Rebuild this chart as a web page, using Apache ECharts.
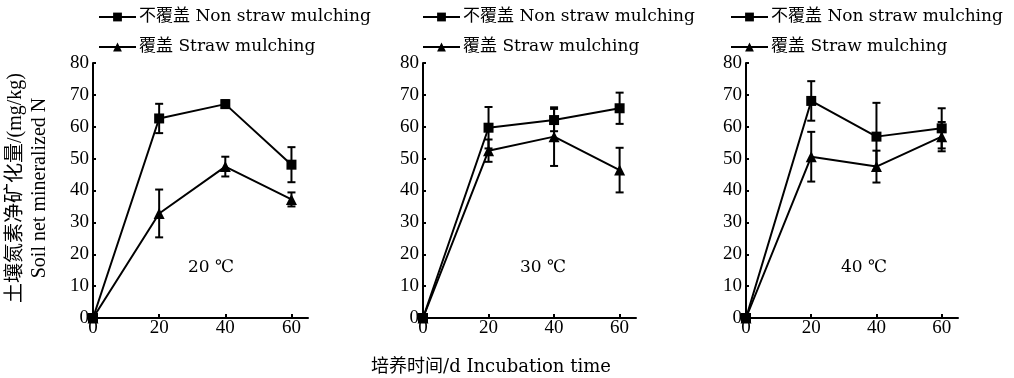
<!DOCTYPE html>
<html>
<head>
<meta charset="utf-8">
<script src="https://cdn.jsdelivr.net/npm/echarts@6/dist/echarts.min.js"></script>
<style>
html,body{margin:0;padding:0;background:#fff;}
#chart{width:1014px;height:378px;}
</style>
</head>
<body>
<div id="chart"></div>
<script>
// ---- data ----
const days = [0, 20, 40, 60];
const xTickValues = [0, 20, 40, 60];
const seriesNames = ['不覆盖 Non straw mulching', '覆盖 Straw mulching'];
const panelLabels = ['20 ℃', '30 ℃', '40 ℃'];

const non20 = [0, 62.6, 67.1, 48.1];
const non20Sd = [0, 4.6, 1.2, 5.5];
const straw20 = [0, 32.8, 47.5, 37.2];
const straw20Sd = [0, 7.5, 3.1, 2.2];

const non30 = [0, 59.7, 62.1, 65.8];
const non30Sd = [0, 6.5, 3.5, 4.9];
const straw30 = [0, 52.5, 56.9, 46.4];
const straw30Sd = [0, 3.5, 9.2, 7.0];

const non40 = [0, 68.1, 56.9, 59.5];
const non40Sd = [0, 6.2, 10.6, 6.3];
const straw40 = [0, 50.6, 47.5, 56.9];
const straw40Sd = [0, 7.8, 5.0, 4.6];

const yTitleCn = '土壤氮素净矿化量/(mg/kg)';
const yTitleEn = 'Soil net mineralized N';
const xTitle = '培养时间/d Incubation time';

// ---- layout ----
const SERIF = "'Liberation Serif','Noto Sans CJK SC',serif";
const SERIF2 = "'DejaVu Serif','Noto Sans CJK SC',serif";
const panels = [
  {left: 93, width: 215, non: non20, nonSd: non20Sd, straw: straw20, strawSd: straw20Sd, legendLeft: 98, labelX: 211},
  {left: 423, width: 213, non: non30, nonSd: non30Sd, straw: straw30, strawSd: straw30Sd, legendLeft: 422, labelX: 543},
  {left: 746, width: 212, non: non40, nonSd: non40Sd, straw: straw40, strawSd: straw40Sd, legendLeft: 730, labelX: 864}
];
const gridTop = 63, gridHeight = 255;
const LW = 2;

function errSeries(idx, vals, sds) {
  return {
    type: 'custom',
    xAxisIndex: idx, yAxisIndex: idx,
    silent: true,
    z: 1,
    data: days.map((d, i) => [d, vals[i], sds[i]]),
    renderItem: function (params, api) {
      const x = api.value(0), v = api.value(1), e = api.value(2);
      if (!e) return null;
      const top = api.coord([x, v + e]);
      const bot = api.coord([x, v - e]);
      const hw = 4;
      const st = {stroke: '#000', lineWidth: LW};
      return {
        type: 'group',
        children: [
          {type: 'line', shape: {x1: top[0], y1: top[1], x2: bot[0], y2: bot[1]}, style: st},
          {type: 'line', shape: {x1: top[0] - hw, y1: top[1], x2: top[0] + hw, y2: top[1]}, style: st},
          {type: 'line', shape: {x1: bot[0] - hw, y1: bot[1], x2: bot[0] + hw, y2: bot[1]}, style: st}
        ]
      };
    }
  };
}

const grid = [], xAxis = [], yAxis = [], series = [], legend = [], graphic = [];
panels.forEach((p, i) => {
  grid.push({left: p.left, top: gridTop, width: p.width, height: gridHeight, containLabel: false});
  xAxis.push({
    type: 'value', gridIndex: i, min: 0, max: 65, interval: 20,
    splitLine: {show: false},
    axisLine: {onZero: false, lineStyle: {color: '#000', width: LW}},
    axisTick: {inside: true, length: 4, lineStyle: {color: '#000', width: LW}, customValues: [20, 40, 60]},
    axisLabel: {color: '#000', fontFamily: SERIF, fontSize: 19, margin: 1, customValues: xTickValues}
  });
  yAxis.push({
    type: 'value', gridIndex: i, min: 0, max: 80, interval: 10,
    splitLine: {show: false},
    axisLine: {lineStyle: {color: '#000', width: LW}},
    axisTick: {inside: true, length: 3, lineStyle: {color: '#000', width: LW}},
    axisLabel: {color: '#000', fontFamily: SERIF, fontSize: 19, margin: 4}
  });
  series.push(errSeries(i, p.straw, p.strawSd));
  series.push(errSeries(i, p.non, p.nonSd));
  series.push({
    name: seriesNames[1], type: 'line', xAxisIndex: i, yAxisIndex: i,
    data: days.map((d, k) => [d, p.straw[k]]),
    symbol: 'triangle', symbolSize: 11, z: 2,
    lineStyle: {color: '#000', width: LW}, itemStyle: {color: '#000'},
    emphasis: {disabled: true}
  });
  series.push({
    name: seriesNames[0], type: 'line', xAxisIndex: i, yAxisIndex: i,
    data: days.map((d, k) => [d, p.non[k]]),
    symbol: 'rect', symbolSize: 10, z: 3,
    lineStyle: {color: '#000', width: LW}, itemStyle: {color: '#000'},
    emphasis: {disabled: true}
  });
  legend.push({
    left: p.legendLeft, top: 7, orient: 'vertical', padding: 0,
    itemWidth: 37, itemHeight: 11, itemGap: 10,
    selectedMode: false,
    data: seriesNames,
    textStyle: {color: '#000', fontFamily: SERIF2, fontSize: 17, lineHeight: 20, padding: [0, 0, 0, -2]}
  });
  graphic.push({
    type: 'text', x: p.labelX, y: 268,
    style: {text: panelLabels[i], fill: '#000', font: "17px 'DejaVu Serif','Noto Sans CJK SC',serif", textAlign: 'center', textVerticalAlign: 'middle'}
  });
});

graphic.push({
  type: 'text', x: 16, y: 188, rotation: Math.PI / 2,
  style: {text: yTitleCn, fill: '#000', font: "20px 'Liberation Serif','Noto Sans CJK SC',serif", textAlign: 'center', textVerticalAlign: 'middle'}
});
graphic.push({
  type: 'text', x: 40, y: 188, rotation: Math.PI / 2,
  style: {text: yTitleEn, fill: '#000', font: "20px 'Liberation Serif',serif", textAlign: 'center', textVerticalAlign: 'middle'}
});
graphic.push({
  type: 'text', x: 491, y: 367,
  style: {text: xTitle, fill: '#000', font: "18px 'DejaVu Serif','Noto Sans CJK SC',serif", textAlign: 'center', textVerticalAlign: 'middle'}
});

const chart = echarts.init(document.getElementById('chart'), null, {renderer: 'canvas'});
chart.setOption({
  backgroundColor: '#fff',
  animation: false,
  grid, xAxis, yAxis, series, legend, graphic
});
</script>
</body>
</html>
